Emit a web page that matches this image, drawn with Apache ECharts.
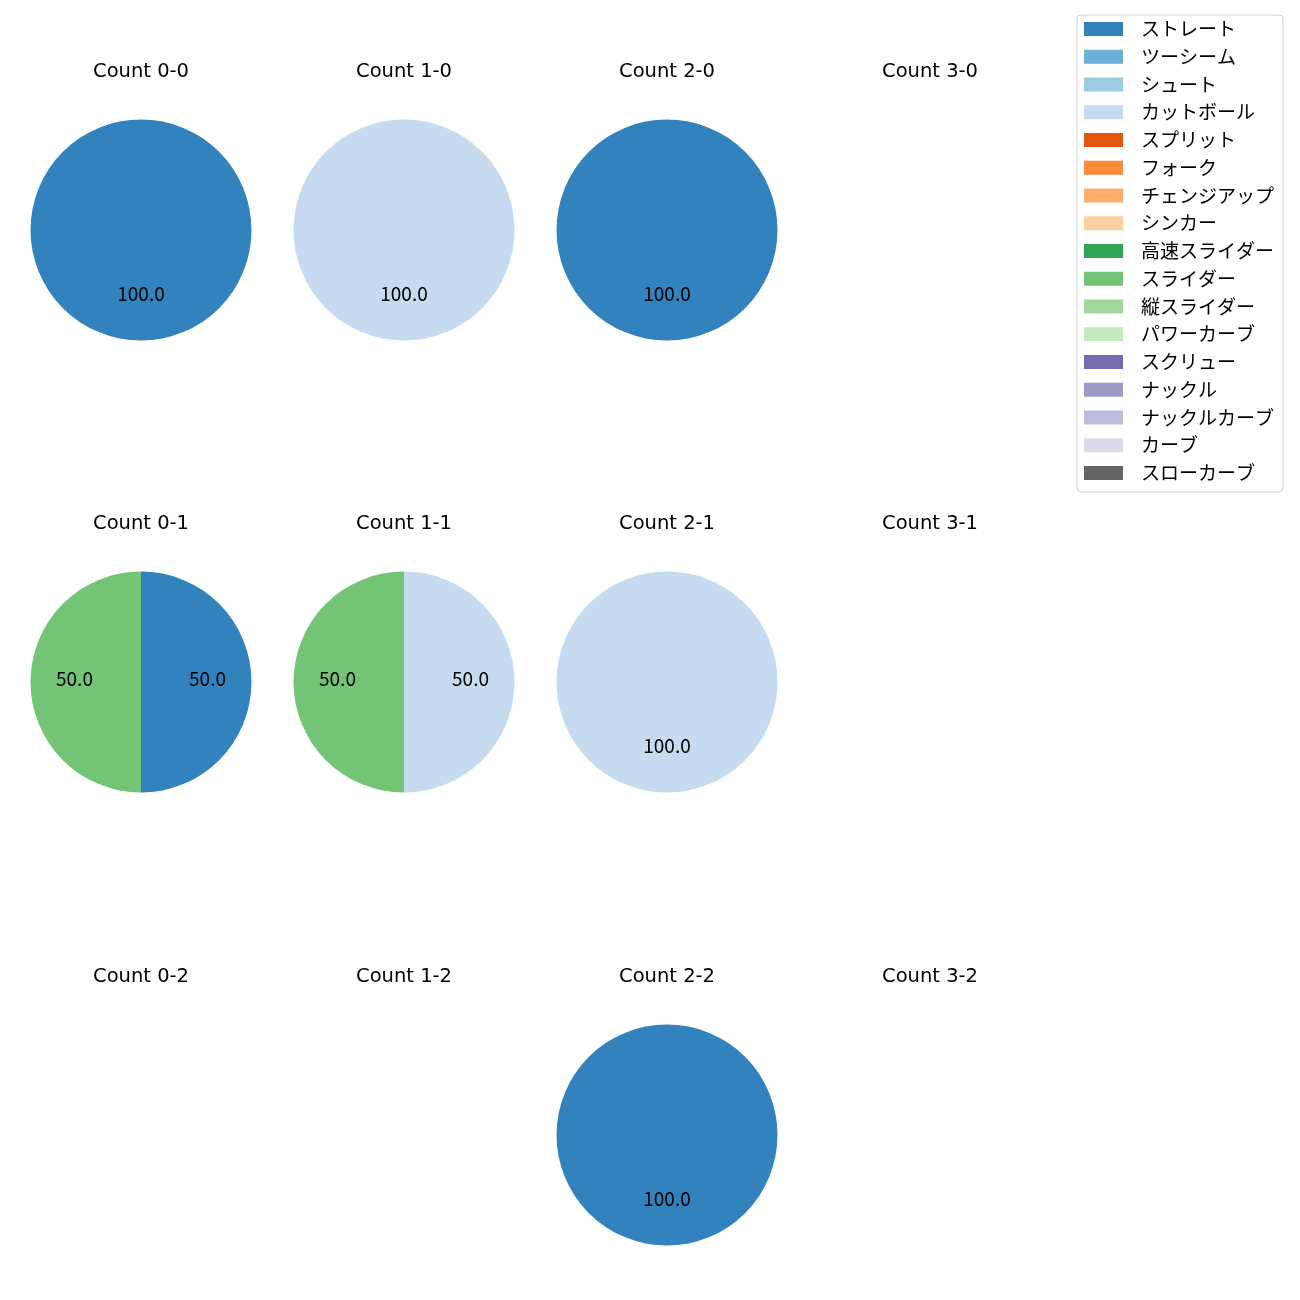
<!DOCTYPE html>
<html>
<head>
<meta charset="utf-8">
<script src="https://cdn.jsdelivr.net/npm/echarts@6/dist/echarts.min.js"></script>
<style>html,body{margin:0;padding:0;background:#fff}#c{width:1300px;height:1300px}</style>
</head>
<body>
<div id="c"></div>
<script>
const pitchTypes = ['ストレート','ツーシーム','シュート','カットボール','スプリット','フォーク','チェンジアップ','シンカー','高速スライダー','スライダー','縦スライダー','パワーカーブ','スクリュー','ナックル','ナックルカーブ','カーブ','スローカーブ'];
const pitchColors = ['#3182bd','#6baed6','#9ecae1','#c6dbef','#e6550d','#fd8d3c','#fdae6b','#fdd0a2','#31a354','#74c476','#a1d99b','#c7e9c0','#756bb1','#9e9ac8','#bcbddc','#dadaeb','#636363'];
const countTitles = ['Count 0-0','Count 1-0','Count 2-0','Count 3-0','Count 0-1','Count 1-1','Count 2-1','Count 3-1','Count 0-2','Count 1-2','Count 2-2','Count 3-2'];
// percentages per count, keyed by pitch type
const countData = [
  {'ストレート':100},
  {'カットボール':100},
  {'ストレート':100},
  {},
  {'ストレート':50,'スライダー':50},
  {'カットボール':50,'スライダー':50},
  {'カットボール':100},
  {},
  {},
  {},
  {'ストレート':100},
  {}
];

const colX = [141,404,667,930];
const rowY = [230,682,1135];
const titleY = [57,509,962];
const R = 110.5;
const FONT = '"Noto Sans CJK JP", "Noto Sans", sans-serif';
const TFONT = '"DejaVu Sans", sans-serif';

const series = [];
const titles = [];
countData.forEach((d, i) => {
  const col = i % 4, row = Math.floor(i / 4);
  const data = pitchTypes.map((n, k) => ({name: n, value: d[n] || 0, itemStyle: {color: pitchColors[k]}}));
  titles.push({text: countTitles[i], left: colX[col] - 5, top: titleY[row], textAlign: 'center',
    textStyle: {fontFamily: TFONT, fontSize: 19.5, fontWeight: 'normal', color: '#000'}});
  series.push({type: 'pie', center: [colX[col], rowY[row]], radius: [0, R], startAngle: 90, clockwise: true,
    stillShowZeroSum: false, showEmptyCircle: false, animation: false, silent: true,
    itemStyle: {borderWidth: 0}, label: {show: false}, labelLine: {show: false}, data: data});
  series.push({type: 'pie', center: [colX[col], rowY[row]], radius: [0, R * 1.15], startAngle: 90, clockwise: true,
    stillShowZeroSum: false, showEmptyCircle: false, animation: false, silent: true,
    itemStyle: {color: 'rgba(0,0,0,0)', borderWidth: 0},
    label: {show: true, position: 'inside', fontFamily: FONT, fontSize: 19, color: '#000', offset: [0, -3],
      formatter: p => p.value > 0 ? p.value.toFixed(1) : ''},
    labelLine: {show: false},
    data: pitchTypes.map(n => ({name: n, value: d[n] || 0, itemStyle: {color: 'rgba(0,0,0,0)'}}))});
});

const chart = echarts.init(document.getElementById('c'), null, {renderer: 'canvas'});
chart.setOption({
  animation: false,
  title: titles,
  legend: {
    data: pitchTypes, orient: 'vertical', left: 1077, top: 15,
    padding: [4.5, 9, 9.5, 7], itemWidth: 39, itemHeight: 14, itemGap: 8.75,
    icon: 'rect', borderColor: '#d0d0d0', borderWidth: 1, borderRadius: 4,
    selectedMode: false,
    textStyle: {fontFamily: FONT, fontSize: 19, color: '#000', padding: [0, 0, 0, 13]}
  },
  series: series
});
</script>
</body>
</html>
